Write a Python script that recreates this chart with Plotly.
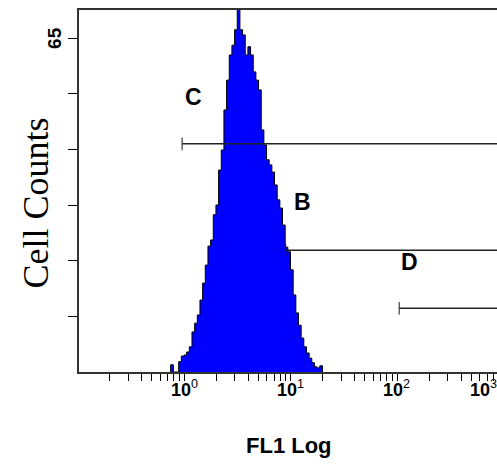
import numpy as np
import plotly.graph_objects as go

# ---------------- data ----------------
# FL1 histogram: uniform bins on the log10 channel scale
bin_start_log = -0.125
bin_width_log = 0.025
counts = [1.4, 0, 0, 2.0, 3.1, 3.3, 3.9, 4.9, 7.8, 9.5, 11.1, 14.0, 17.3, 20.8,
          24.5, 25.7, 30.6, 32.5, 39.3, 43.2, 51.0, 56.8, 61.7, 63.6, 66.6, 72.0,
          66.6, 65.6, 61.7, 63.3, 61.7, 58.4, 56.8, 54.9, 47.1, 44.2, 41.3, 40.3,
          38.9, 36.4, 33.5, 31.9, 28.6, 24.3, 23.4, 19.9, 15.0, 11.5, 9.1, 6.6,
          4.9, 3.7, 2.7, 1.8, 1.0, 0.8, 1.2]

# gates (marker regions)
gate_names = ["C", "B", "D"]
gate_start = [0.96, 9.0, 105.0]
gate_end = [1e4, 1e4, 1e4]
gate_level = [44.4, 23.7, 12.4]
gate_label_x = [1.24, 13.1, 132.0]
gate_label_y = [53.5, 33.0, 21.4]

# axis ticks
y_max_label = 65
y_tick_vals = [65 * k / 6 for k in range(1, 7)]
decades = [-1, 0, 1, 2]
major_exponents = [0, 1, 2]
edge_label_exponent = 3

# ---------------- build ----------------
n = len(counts)
edges = 10 ** (bin_start_log + bin_width_log * np.arange(n + 1))
hx = [edges[0]] + list(edges[:-1]) + [edges[-1], edges[-1]]
hy = [0] + list(counts) + [counts[-1], 0]

fig = go.Figure()
fig.add_trace(go.Scatter(
    x=hx, y=hy, mode="lines", line=dict(shape="hv", color="black", width=1),
    fill="tozeroy", fillcolor="#0000FF", hoverinfo="skip"))

for name, xs, xe, lv in zip(gate_names, gate_start, gate_end, gate_level):
    fig.add_trace(go.Scatter(
        x=[xs, xe], y=[lv, lv], mode="lines+markers",
        line=dict(color="#222222", width=1.5),
        marker=dict(symbol="line-ns", size=[9, 0], line=dict(color="#222222", width=1.5)),
        hoverinfo="skip"))

x_range = [-0.986, 2.939]
tickvals = []
for d in decades:
    for m in range(1, 10):
        v = m * 10.0 ** d
        if 10 ** (x_range[0] + 0.005) <= v <= 10 ** x_range[1]:
            tickvals.append(v)

fig.update_layout(
    width=497, height=464,
    margin=dict(l=79, r=0, t=10, b=92),
    plot_bgcolor="white", paper_bgcolor="white",
    showlegend=False,
    font=dict(family="Liberation Sans, Arial, sans-serif", color="black"),
    xaxis=dict(type="log", range=x_range, showline=True, linecolor="#333333",
               linewidth=2, mirror=True, ticks="outside", ticklen=7, tickwidth=1,
               tickcolor="black", tickvals=tickvals, showticklabels=False,
               showgrid=False, zeroline=False),
    yaxis=dict(range=[0, 70.45], showline=True, linecolor="#333333", linewidth=2,
               ticks="outside", ticklen=9, tickwidth=1, tickcolor="black",
               tickvals=y_tick_vals, showticklabels=False,
               showgrid=False, zeroline=False),
)

# x tick labels (10^n), placed on the axis' own scale
x_span = x_range[1] - x_range[0]
for e in major_exponents:
    fig.add_annotation(x=(e - x_range[0]) / x_span, xref="paper", y=-0.008, yref="paper",
                       yanchor="top", xanchor="center",
                       text=f"<b>10</b><sup>{e}</sup>", showarrow=False,
                       font=dict(size=18, color="black"))
# the last decade label sits at the cropped right edge
fig.add_annotation(x=0.968, xref="paper", y=-0.008, yref="paper",
                   yanchor="top", xanchor="center",
                   text=f"<b>10</b><sup>{edge_label_exponent}</sup>", showarrow=False,
                   font=dict(size=18, color="black"))

# y max label
fig.add_annotation(x=-0.06, xref="paper", y=y_max_label, yref="y", textangle=-90,
                   xanchor="center", yanchor="middle", text=f"<b>{y_max_label}</b>",
                   showarrow=False, font=dict(size=19, color="black"))

for name, lx, ly in zip(gate_names, gate_label_x, gate_label_y):
    fig.add_annotation(x=np.log10(lx), y=ly, text=f"<b>{name}</b>", showarrow=False,
                       font=dict(size=23, color="black"), xanchor="center", yanchor="middle")

fig.add_annotation(x=0.502, xref="paper", y=-0.204, yref="paper", yanchor="middle",
                   text="<b>FL1 Log</b>", showarrow=False,
                   font=dict(size=22, color="black"))

fig.add_annotation(x=-0.103, xref="paper", y=0.468, yref="paper", xanchor="center",
                   yanchor="middle", textangle=-90, text="Cell Counts", showarrow=False,
                   font=dict(family="Liberation Serif, Times New Roman, serif", size=36,
                             color="black"))

fig.write_html("out.html")
